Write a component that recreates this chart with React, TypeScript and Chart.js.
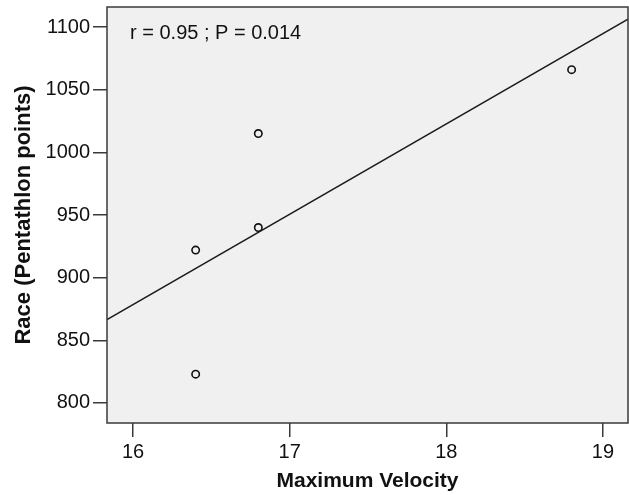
import React, { useEffect, useRef } from "react";
import { Chart, registerables } from "chart.js";

Chart.register(...registerables);

// Data
const velocity = [16.4, 16.4, 16.8, 16.8, 18.8];
const racePoints = [922, 823, 940, 1015, 1066];
// Fit line endpoints (at the plot edges)
const fitX = [15.834, 19.16];
const fitY = [866.5, 1106.4];
const xTicks = [16, 17, 18, 19];
const yTicks = [800, 850, 900, 950, 1000, 1050, 1100];
const annotation = "r = 0.95 ; P = 0.014";
const xTitle = "Maximum Velocity";
const yTitle = "Race (Pentathlon points)";

const FONT = "'Liberation Sans', Arial, sans-serif";

export default function App() {
  const ref = useRef<HTMLCanvasElement | null>(null);

  useEffect(() => {
    document.body.style.margin = "0";
    const canvas = ref.current;
    if (!canvas) return;

    const framePlugin = {
      id: "frame",
      beforeDraw(chart: any) {
        const { ctx, chartArea: a } = chart;
        ctx.save();
        ctx.fillStyle = "#f0f0f0";
        ctx.fillRect(a.left, a.top, a.right - a.left, a.bottom - a.top);
        ctx.restore();
      },
      afterDraw(chart: any) {
        const { ctx, chartArea: a } = chart;
        ctx.save();
        ctx.strokeStyle = "#3a3a3a";
        ctx.lineWidth = 1.5;
        ctx.strokeRect(a.left, a.top, a.right - a.left, a.bottom - a.top);
        ctx.fillStyle = "#111";
        ctx.font = `20px ${FONT}`;
        ctx.textBaseline = "middle";
        ctx.textAlign = "left";
        ctx.fillText(annotation, 130, 33);
        ctx.restore();
      },
    };

    const chart = new Chart(canvas, {
      type: "scatter",
      data: {
        datasets: [
          {
            type: "line",
            data: fitX.map((x, i) => ({ x, y: fitY[i] })),
            borderColor: "#1a1a1a",
            borderWidth: 1.5,
            pointRadius: 0,
            fill: false,
          } as any,
          {
            type: "scatter",
            data: velocity.map((x, i) => ({ x, y: racePoints[i] })),
            pointRadius: 3.7,
            pointBorderWidth: 1.6,
            borderColor: "#111",
            backgroundColor: "rgba(0,0,0,0)",
          } as any,
        ],
      },
      options: {
        responsive: false,
        animation: false,
        devicePixelRatio: 1,
        layout: { autoPadding: false, padding: { top: 7, right: 1, left: 0, bottom: 0 } },
        plugins: { legend: { display: false }, tooltip: { enabled: false } },
        scales: {
          x: {
            type: "linear",
            min: fitX[0],
            max: fitX[1],
            afterBuildTicks: (s: any) => {
              s.ticks = xTicks.map((v) => ({ value: v }));
            },
            afterFit: (s: any) => {
              s.height = 72;
              s.paddingLeft = 0;
              s.paddingRight = 0;
            },
            grid: { drawOnChartArea: false, drawTicks: true, tickLength: 14, color: "#3a3a3a", lineWidth: 1.5 },
            border: { display: false },
            ticks: {
              color: "#111",
              font: { family: FONT, size: 20 },
              padding: 3,
              maxRotation: 0,
              callback: (v: any) => String(v),
            },
            title: {
              display: true,
              text: xTitle,
              color: "#111",
              font: { family: FONT, size: 21, weight: "bold" },
              padding: { top: 0, bottom: 1 },
            },
          },
          y: {
            type: "linear",
            min: 784,
            max: 1116,
            afterBuildTicks: (s: any) => {
              s.ticks = yTicks.map((v) => ({ value: v }));
            },
            afterFit: (s: any) => {
              s.width = 107;
              s.paddingTop = 0;
              s.paddingBottom = 0;
            },
            grid: { drawOnChartArea: false, drawTicks: true, tickLength: 14, color: "#3a3a3a", lineWidth: 1.5 },
            border: { display: false },
            ticks: {
              color: "#111",
              font: { family: FONT, size: 20 },
              padding: 3,
              callback: (v: any) => String(v),
            },
            title: {
              display: true,
              text: yTitle,
              color: "#111",
              font: { family: FONT, size: 22, weight: "bold" },
              padding: { top: 11, bottom: 0 },
            },
          },
        },
      },
      plugins: [framePlugin],
    } as any);

    return () => chart.destroy();
  }, []);

  return (
    <div style={{ width: 629, height: 495 }}>
      <canvas ref={ref} width={629} height={495} style={{ display: "block" }} />
    </div>
  );
}
